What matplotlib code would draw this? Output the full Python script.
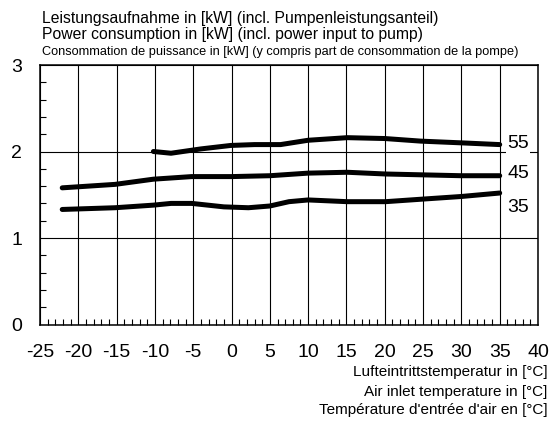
import numpy as np
import matplotlib
matplotlib.use("Agg")
import matplotlib.pyplot as plt
from matplotlib.ticker import MultipleLocator

plt.rcParams['font.family'] = ['Liberation Sans', 'DejaVu Sans']

# curves (air temp in degC, power in kW)
t55 = [-10.2, -7.9, -4.0, -0.1, 3.0, 6.4, 10.0, 15.1, 20.0, 24.7, 30.0, 35.0]
p55 = [2.00, 1.98, 2.03, 2.07, 2.08, 2.08, 2.13, 2.16, 2.15, 2.12, 2.10, 2.08]

t45 = [-22.1, -15.2, -10.2, -5.2, 0.0, 5.0, 10.0, 15.1, 20.1, 25.0, 30.0, 35.0]
p45 = [1.58, 1.62, 1.68, 1.71, 1.71, 1.72, 1.75, 1.76, 1.74, 1.73, 1.72, 1.72]

t35 = [-22.1, -15.2, -10.2, -7.9, -5.2, -1.0, 2.2, 5.0, 7.5, 10.0, 15.1, 20.1, 25.0, 30.0, 35.0]
p35 = [1.33, 1.35, 1.38, 1.40, 1.40, 1.36, 1.35, 1.37, 1.42, 1.44, 1.42, 1.42, 1.45, 1.48, 1.52]

curve_labels = ['55', '45', '35']
label_y = [2.09, 1.75, 1.35]

xticks = list(range(-25, 41, 5))
yticks = [0, 1, 2, 3]

fig = plt.figure(figsize=(5.51, 4.21), dpi=100)
ax = fig.add_axes([0.0726, 0.2292, 0.9038, 0.6164])

for t, p in [(t55, p55), (t45, p45), (t35, p35)]:
    ax.plot(t, p, color='black', lw=3.6, solid_capstyle='round', solid_joinstyle='round', zorder=3)

for lab, yy in zip(curve_labels, label_y):
    ax.text(36.0, yy, lab, fontsize=14, ha='left', va='center', zorder=4,
            bbox=dict(facecolor='white', edgecolor='none', pad=1.0))

ax.set_xlim(-25, 40)
ax.set_ylim(0, 3)
ax.set_xticks(xticks)
ax.set_xticklabels([str(v) for v in xticks])
ax.set_yticks(yticks)
ax.xaxis.set_minor_locator(MultipleLocator(1))
ax.yaxis.set_minor_locator(MultipleLocator(0.2))
ax.tick_params(axis='both', which='major', length=0, labelsize=14)
ax.tick_params(axis='x', which='major', pad=14)
ax.tick_params(axis='y', which='major', pad=13)
ax.tick_params(axis='both', which='minor', direction='in', length=4, width=0.8)
ax.tick_params(top=False, right=False, which='both')

ax.grid(True, which='major', color='black', lw=0.8)
for s in ax.spines.values():
    s.set_linewidth(1.1)

fig.text(0.076, 0.957, 'Leistungsaufnahme in [kW] (incl. Pumpenleistungsanteil)', fontsize=11.3, va='center')
fig.text(0.076, 0.917, 'Power consumption in [kW] (incl. power input to pump)', fontsize=11.3, va='center')
fig.text(0.076, 0.877, 'Consommation de puissance in [kW] (y compris part de consommation de la pompe)',
         fontsize=9.2, va='center', family=['Liberation Sans Narrow', 'Liberation Sans'])

fig.text(0.994, 0.116, 'Lufteintrittstemperatur in [°C]', fontsize=11, ha='right', va='center')
fig.text(0.994, 0.069, 'Air inlet temperature in [°C]', fontsize=11, ha='right', va='center')
fig.text(0.994, 0.026, "Température d'entrée d'air en [°C]", fontsize=11, ha='right', va='center')

fig.savefig('out.png', dpi=100)
